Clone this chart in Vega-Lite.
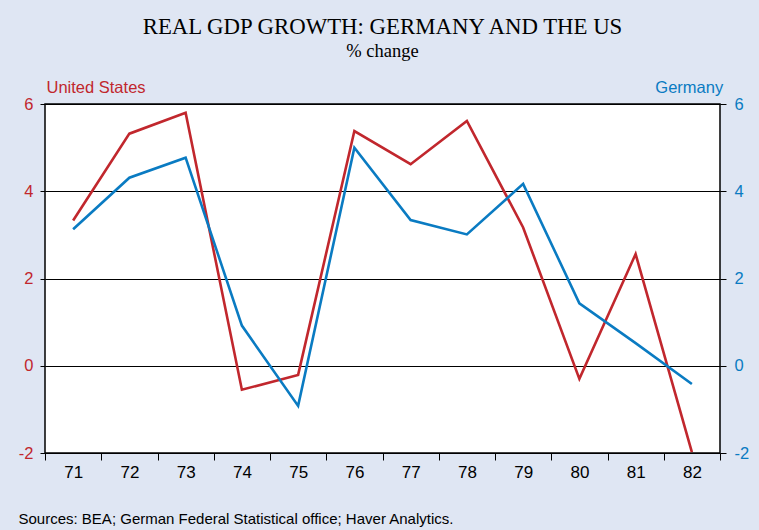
{
  "$schema": "https://vega.github.io/schema/vega-lite/v6.json",
  "width": 675,
  "height": 349,
  "autosize": "none",
  "padding": {"left": 45, "top": 104, "right": 39, "bottom": 77},
  "background": "#dfe6f3",
  "config": {"font": "Liberation Sans", "view": {"fill": "white", "stroke": "black", "strokeWidth": 1.5}},
  "title": {
    "text": "REAL GDP GROWTH: GERMANY AND THE US",
    "subtitle": "% change",
    "font": "Liberation Serif",
    "subtitleFont": "Liberation Serif",
    "fontSize": 22.8,
    "subtitleFontSize": 18.5,
    "fontWeight": "normal",
    "color": "black",
    "subtitleColor": "black",
    "anchor": "middle",
    "frame": "group",
    "subtitlePadding": 3,
    "offset": 19
  },
  "data": {
    "values": [
      {"year": "71", "us": 3.33, "de": 3.13},
      {"year": "72", "us": 5.32, "de": 4.31},
      {"year": "73", "us": 5.80, "de": 4.77},
      {"year": "74", "us": -0.55, "de": 0.92},
      {"year": "75", "us": -0.21, "de": -0.92},
      {"year": "76", "us": 5.38, "de": 5.00},
      {"year": "77", "us": 4.62, "de": 3.34},
      {"year": "78", "us": 5.61, "de": 3.01},
      {"year": "79", "us": 3.17, "de": 4.17},
      {"year": "80", "us": -0.30, "de": 1.43},
      {"year": "81", "us": 2.56, "de": 0.52},
      {"year": "82", "us": -1.98, "de": -0.42}
    ]
  },
  "encoding": {
    "x": {
      "field": "year",
      "type": "ordinal",
      "bandPosition": 0.5,
      "scale": {"type": "band", "paddingInner": 0, "paddingOuter": 0},
      "axis": {
        "title": "Sources: BEA; German Federal Statistical office; Haver Analytics.",
        "titleFont": "Liberation Sans",
        "titleFontSize": 15,
        "titleFontWeight": "normal",
        "titleColor": "black",
        "titleAnchor": "start",
        "titleAlign": "left",
        "titleBaseline": "alphabetic",
        "titleX": -27,
        "titleY": 70,
        "labelAngle": 0,
        "labelFontSize": 17,
        "labelColor": "black",
        "labelPadding": 4,
        "tickBand": "extent",
        "tickSize": 7,
        "tickColor": "black",
        "domain": false,
        "grid": false
      }
    }
  },
  "layer": [
    {
      "mark": {"type": "line", "color": "#c1272d", "strokeWidth": 2.6, "strokeJoin": "miter"},
      "encoding": {
        "y": {
          "field": "us",
          "type": "quantitative",
          "scale": {"domain": [-2, 6], "nice": false, "zero": false},
          "axis": {
            "orient": "left",
            "values": [-2, 0, 2, 4, 6],
            "labelExpr": "datum.value + ''",
            "labelColor": "#c1272d",
            "labelFontSize": 16.5,
            "labelPadding": 7,
            "tickSize": 5,
            "tickColor": "black",
            "domain": false,
            "grid": true,
            "gridColor": "black",
            "gridWidth": 1,
            "gridOpacity": 1,
            "title": "United States",
            "titleColor": "#c1272d",
            "titleFontSize": 16.5,
            "titleFontWeight": "normal",
            "titleAngle": 0,
            "titleAlign": "left",
            "titleBaseline": "alphabetic",
            "titleX": 1,
            "titleY": -11.3
          }
        }
      }
    },
    {
      "mark": {"type": "line", "color": "#0a7bc2", "strokeWidth": 2.6, "strokeJoin": "miter"},
      "encoding": {
        "y": {
          "field": "de",
          "type": "quantitative",
          "scale": {"domain": [-2, 6], "nice": false, "zero": false},
          "axis": {
            "orient": "right",
            "values": [-2, 0, 2, 4, 6],
            "labelExpr": "datum.value + ''",
            "labelColor": "#0a7bc2",
            "labelFontSize": 16.5,
            "labelPadding": 8,
            "tickSize": 6,
            "tickColor": "black",
            "domain": false,
            "grid": false,
            "title": "Germany",
            "titleColor": "#0a7bc2",
            "titleFontSize": 16.5,
            "titleFontWeight": "normal",
            "titleAngle": 0,
            "titleAlign": "right",
            "titleBaseline": "alphabetic",
            "titleX": 2.7,
            "titleY": -11.3
          }
        }
      }
    }
  ],
  "resolve": {"scale": {"y": "independent"}}
}
